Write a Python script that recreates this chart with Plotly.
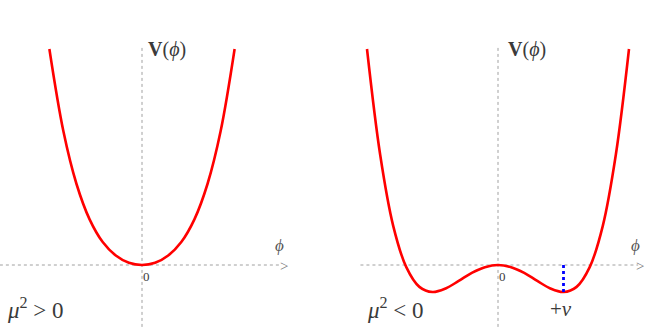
import plotly.graph_objects as go
from plotly.subplots import make_subplots

# potential for mu^2 > 0 (phi in units of v, V in units of the well depth)
phi_pos = [-1.414, -1.2, -1.0, -0.8, -0.6, -0.4, -0.2, 0.0, 0.2, 0.4, 0.6, 0.8, 1.0, 1.2, 1.414]
V_pos = [8.0, 4.95, 3.0, 1.69, 0.85, 0.35, 0.08, 0.0, 0.08, 0.35, 0.85, 1.69, 3.0, 4.95, 8.0]

# potential for mu^2 < 0 (double well)
phi_neg = [-2.0, -1.8, -1.6, -1.4, -1.2, -1.0, -0.8, -0.6, -0.4, -0.2, 0.0,
           0.2, 0.4, 0.6, 0.8, 1.0, 1.2, 1.4, 1.6, 1.8, 2.0]
V_neg = [8.0, 4.1, 1.45, -0.08, -0.81, -1.0, -0.87, -0.59, -0.29, -0.08, 0.0,
         -0.08, -0.29, -0.59, -0.87, -1.0, -0.81, -0.08, 1.45, 4.1, 8.0]

v = 1.0
V_min = -1.0

TXT = '#3a3a3a'
AX = '#a0a0a0'
FONT = 'Liberation Serif'

fig = make_subplots(rows=1, cols=2)

fig.add_trace(go.Scatter(x=phi_pos, y=V_pos, mode='lines', line_shape='spline',
                         line=dict(color='#ff0000', width=2.6)), row=1, col=1)
fig.add_trace(go.Scatter(x=phi_neg, y=V_neg, mode='lines', line_shape='spline',
                         line=dict(color='#ff0000', width=2.6)), row=1, col=2)
fig.add_trace(go.Scatter(x=[v, v], y=[0, V_min], mode='lines',
                         line=dict(color='#0000ff', width=2.8, dash='dot')), row=1, col=2)

# dotted axes
for xr, yr, x_left, x_right in [('x', 'y', -2.17, 2.1), ('x2', 'y2', -2.1, 2.14)]:
    fig.add_shape(type='line', xref=xr, yref=yr, x0=x_left, x1=x_right, y0=0, y1=0,
                  line=dict(color=AX, width=1, dash='dot'), layer='below')
    fig.add_shape(type='line', xref=xr, yref=yr, x0=0, x1=0, y0=8.04, y1=-2.4,
                  line=dict(color=AX, width=1, dash='dot'), layer='below')

def label(text, x, y, xr, yr, size, color=TXT):
    fig.add_annotation(text=text, x=x, y=y, xref=xr, yref=yr, showarrow=False,
                       font=dict(family=FONT, size=size, color=color))

for xr, yr, vx in [('x', 'y', 0.38), ('x2', 'y2', 0.44)]:
    label('<b>V</b>(<i>ϕ</i>)', vx, 8.0, xr, yr, 20)
    label('<i>ϕ</i>', 2.1, 0.72, xr, yr, 17, '#555555')
    label('&gt;', 2.17, -0.05, xr, yr, 15, '#777777')
    label('0', 0.07, -0.44, xr, yr, 13)

label('<i>μ</i><sup>2</sup> &gt; 0', -1.62, -1.6, 'x', 'y', 23)
label('<i>μ</i><sup>2</sup> &lt; 0', -1.56, -1.6, 'x2', 'y2', 23)
label('+<i>v</i>', 0.96, -1.63, 'x2', 'y2', 21)

fig.update_xaxes(visible=False)
fig.update_yaxes(visible=False)
fig.update_layout(
    width=654, height=327,
    margin=dict(l=0, r=0, t=0, b=0),
    showlegend=False,
    plot_bgcolor='white', paper_bgcolor='white',
    xaxis=dict(domain=[0, 290 / 654], range=[-142 / 65.5, 148 / 65.5]),
    xaxis2=dict(domain=[350 / 654, 1], range=[-148 / 65.5, 156 / 65.5]),
    yaxis=dict(domain=[0, 1], range=[-62 / 27, 265 / 27]),
    yaxis2=dict(domain=[0, 1], range=[-62 / 27, 265 / 27]),
)

fig.write_html("out.html", config={'displayModeBar': False},
               post_script="document.body.style.margin='0';")
